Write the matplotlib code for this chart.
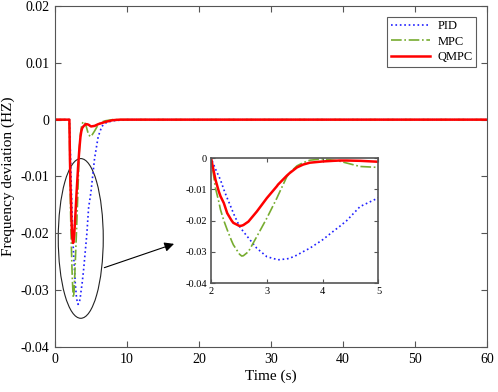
import matplotlib
matplotlib.use("Agg")
import matplotlib.pyplot as plt
from matplotlib.patches import Ellipse

plt.rcParams['font.family'] = ['Liberation Serif', 'DejaVu Serif']
plt.rcParams['mathtext.fontset'] = 'stix'

# Time samples (s)
t = [0, 1.9, 2.0, 2.08, 2.14, 2.17, 2.23, 2.29, 2.37, 2.40, 2.51, 2.55, 2.58, 2.67,
     2.82, 3.0, 3.18, 3.2, 3.36, 3.41, 3.54, 3.65, 3.77, 4.0, 4.19, 4.3, 4.43,
     4.67, 5.0, 5.5, 6.0, 6.5, 7.0, 8.0, 9.0, 10.0, 20.0, 60.0]

pid = [0, 0, 0, -0.0035, -0.0058, -0.0070, -0.0101, -0.0128, -0.0162, -0.0176,
       -0.0218, -0.0228, -0.0235, -0.0255, -0.0288, -0.0315, -0.0324, -0.0325,
       -0.0322, -0.0320, -0.0310, -0.0299, -0.0288, -0.0261, -0.0234, -0.0219,
       -0.0200, -0.0155, -0.0127, -0.0068, -0.0030, -0.0012, -0.0006, -0.0002,
       -0.0001, 0, 0, 0]

mpc = [0, 0, 0, -0.0096, -0.0140, -0.0165, -0.0200, -0.0229, -0.0265, -0.0277,
       -0.0307, -0.0313, -0.0312, -0.0299, -0.0251, -0.0192, -0.0128, -0.0120,
       -0.0059, -0.0047, -0.0025, -0.0015, -0.0007, -0.0003, -0.0007, -0.0010,
       -0.0016, -0.0027, -0.0030, -0.0020, -0.0009, -0.0004, -0.0002, 0, 0, 0, 0, 0]

qmpc = [0, 0, 0, -0.0069, -0.0107, -0.0122, -0.0144, -0.0176, -0.0200, -0.0207,
        -0.0217, -0.0216, -0.0214, -0.0203, -0.0171, -0.0128, -0.0090, -0.0085,
        -0.0056, -0.0048, -0.0030, -0.0021, -0.0015, -0.0011, -0.0009, -0.0008,
        -0.0008, -0.0009, -0.0012, -0.0011, -0.0008, -0.0006, -0.0004, -0.0001,
        0, 0, 0, 0]

labels = ['PID', 'MPC', 'QMPC']
colors = ['#1f1fff', '#77AC30', '#ff0000']
styles = [':', '-.', '-']
widths = [1.2, 1.2, 1.8]
series = [pid, mpc, qmpc]

xticks = [0, 10, 20, 30, 40, 50, 60]
yticks = [-0.04, -0.03, -0.02, -0.01, 0, 0.01, 0.02]
ytick_labels = ['-0.04', '-0.03', '-0.02', '-0.01', '0', '0.01', '0.02']
inset_xticks = [2, 3, 4, 5]
inset_yticks = [-0.04, -0.03, -0.02, -0.01, 0]
inset_ytick_labels = ['-0.04', '-0.03', '-0.02', '-0.01', '0']

spine_col = '#555555'

fig = plt.figure(figsize=(4.98, 3.92), dpi=100)
ax = fig.add_axes([0.1104, 0.1148, 0.8675, 0.870])
for s, lab, c, ls, lw in zip(series, labels, colors, styles, widths):
    ax.plot(t, s, ls, color=c, lw=lw, label=lab)
ax.set_xlim(0, 60)
ax.set_ylim(-0.04, 0.02)
ax.set_xticks(xticks)
ax.set_yticks(yticks)
ax.set_yticklabels(ytick_labels)
ax.tick_params(direction='in', top=True, right=True, labelsize=10, length=4,
               color=spine_col, pad=4)
for sp in ax.spines.values():
    sp.set_color(spine_col)
ax.set_xlabel('Time (s)', fontsize=11, labelpad=3)
ax.set_ylabel('Frequency deviation (HZ)', fontsize=11, labelpad=4)
leg = ax.legend(loc='upper right', fontsize=9, frameon=True, fancybox=False,
                edgecolor='#333333', handlelength=3.1, handletextpad=0.6,
                borderaxespad=0.85, labelspacing=0.28, borderpad=0.3)
leg.get_frame().set_linewidth(0.8)

ell = Ellipse((3.58, -0.0209), 6.25, 0.0281, fill=False, edgecolor='#222222', lw=0.8)
ax.add_patch(ell)
ax.annotate('', xy=(16.9, -0.0217), xytext=(6.49, -0.0262),
            arrowprops=dict(arrowstyle='-|>', color='black', lw=0.8,
                            mutation_scale=14))

ins = fig.add_axes([0.4237, 0.2773, 0.3363, 0.3196])
for s, c, ls, lw in zip(series, colors, styles, widths):
    ins.plot(t, s, ls, color=c, lw=lw)
ins.set_xlim(2, 5)
ins.set_ylim(-0.04, 0)
ins.set_xticks(inset_xticks)
ins.set_yticks(inset_yticks)
ins.set_yticklabels(inset_ytick_labels)
ins.tick_params(direction='in', top=True, right=True, labelsize=7.5, length=3,
                color=spine_col, pad=3)
for sp in ins.spines.values():
    sp.set_color(spine_col)
    sp.set_linewidth(1.2)

fig.savefig('out.png', dpi=100)
